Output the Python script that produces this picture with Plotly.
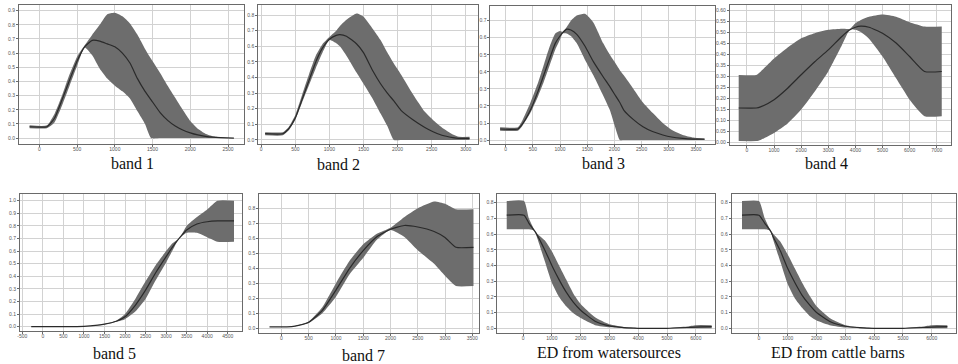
import plotly.graph_objects as go

W, H = 958, 364

# ---------------- data ----------------
b1_x = [-130, 100, 200, 300, 400, 500, 600, 700, 800, 900, 1000, 1100, 1200, 1300, 1400, 1480, 1600, 1700, 1800, 1900, 2000, 2100, 2200, 2300, 2400, 2578]
b1_mean = [0.08, 0.08, 0.14, 0.27, 0.41, 0.545, 0.645, 0.69, 0.685, 0.665, 0.645, 0.60, 0.53, 0.42, 0.33, 0.27, 0.18, 0.125, 0.085, 0.057, 0.037, 0.022, 0.012, 0.006, 0.003, 0.0]
b1_upper = [0.09, 0.09, 0.17, 0.30, 0.45, 0.575, 0.655, 0.73, 0.80, 0.875, 0.885, 0.86, 0.81, 0.73, 0.63, 0.56, 0.46, 0.37, 0.285, 0.20, 0.12, 0.065, 0.03, 0.012, 0.004, 0.0]
b1_lower = [0.07, 0.07, 0.11, 0.23, 0.37, 0.51, 0.64, 0.585, 0.49, 0.42, 0.37, 0.33, 0.28, 0.19, 0.10, 0.0, 0.0, 0.0, 0.0, 0.0, 0.0, 0.0, 0.0, 0.0, 0.0, 0.0]

b2_x = [58, 317, 400, 500, 600, 700, 800, 900, 1000, 1100, 1155, 1250, 1400, 1500, 1640, 1750, 1850, 1945, 2050, 2230, 2400, 2520, 2650, 2810, 2900, 3055]
b2_mean = [0.04, 0.04, 0.07, 0.14, 0.26, 0.38, 0.50, 0.59, 0.645, 0.67, 0.675, 0.665, 0.615, 0.56, 0.44, 0.36, 0.30, 0.25, 0.19, 0.128, 0.08, 0.053, 0.03, 0.015, 0.01, 0.01]
b2_upper = [0.05, 0.05, 0.08, 0.16, 0.29, 0.42, 0.54, 0.615, 0.66, 0.70, 0.73, 0.77, 0.81, 0.79, 0.71, 0.64, 0.56, 0.49, 0.42, 0.29, 0.18, 0.128, 0.08, 0.035, 0.02, 0.02]
b2_lower = [0.03, 0.03, 0.06, 0.13, 0.24, 0.35, 0.46, 0.56, 0.64, 0.62, 0.60, 0.54, 0.43, 0.36, 0.26, 0.17, 0.09, 0.0, 0.0, 0.0, 0.0, 0.0, 0.0, 0.0, 0.0, 0.0]

b3_x = [-102, 226, 300, 456, 600, 700, 800, 912, 1000, 1050, 1126, 1200, 1308, 1460, 1613, 1795, 1916, 2000, 2099, 2172, 2350, 2525, 2700, 2890, 3050, 3255, 3450, 3657]
b3_mean = [0.065, 0.065, 0.09, 0.176, 0.29, 0.38, 0.47, 0.567, 0.61, 0.63, 0.65, 0.645, 0.62, 0.55, 0.46, 0.37, 0.313, 0.27, 0.22, 0.176, 0.12, 0.078, 0.05, 0.03, 0.018, 0.01, 0.006, 0.005]
b3_upper = [0.075, 0.075, 0.11, 0.22, 0.34, 0.44, 0.54, 0.625, 0.64, 0.635, 0.665, 0.70, 0.73, 0.74, 0.69, 0.567, 0.50, 0.46, 0.41, 0.38, 0.30, 0.22, 0.16, 0.10, 0.06, 0.03, 0.015, 0.008]
b3_lower = [0.055, 0.055, 0.08, 0.16, 0.26, 0.34, 0.43, 0.53, 0.59, 0.625, 0.625, 0.61, 0.567, 0.47, 0.38, 0.26, 0.176, 0.09, 0.0, 0.0, 0.0, 0.0, 0.0, 0.0, 0.0, 0.0, 0.0, 0.0]

b4_x = [-305, 345, 500, 1000, 1500, 2000, 2500, 3000, 3500, 3800, 4000, 4200, 4500, 5000, 5500, 6000, 6550, 7184]
b4_mean = [0.155, 0.155, 0.16, 0.193, 0.245, 0.306, 0.365, 0.419, 0.48, 0.51, 0.522, 0.527, 0.522, 0.495, 0.45, 0.389, 0.321, 0.321]
b4_upper = [0.305, 0.305, 0.32, 0.38, 0.43, 0.472, 0.495, 0.51, 0.515, 0.515, 0.54, 0.555, 0.57, 0.58, 0.57, 0.545, 0.525, 0.525]
b4_lower = [0.005, 0.005, 0.01, 0.042, 0.085, 0.148, 0.23, 0.321, 0.44, 0.512, 0.51, 0.50, 0.47, 0.389, 0.29, 0.193, 0.118, 0.118]

b5_x = [-284, 500, 1000, 1500, 1800, 2000, 2250, 2500, 2750, 3000, 3150, 3317, 3500, 3750, 4000, 4250, 4653]
b5_mean = [0.0, 0.0, 0.003, 0.02, 0.045, 0.079, 0.17, 0.29, 0.43, 0.556, 0.63, 0.70, 0.767, 0.815, 0.833, 0.84, 0.84]
b5_upper = [0.0, 0.0, 0.003, 0.022, 0.05, 0.10, 0.22, 0.36, 0.49, 0.60, 0.66, 0.70, 0.80, 0.87, 0.93, 1.0, 1.0]
b5_lower = [0.0, 0.0, 0.003, 0.018, 0.04, 0.06, 0.12, 0.22, 0.37, 0.51, 0.60, 0.70, 0.745, 0.745, 0.71, 0.675, 0.675]

b7_x = [-219, 100, 250, 500, 750, 1000, 1250, 1500, 1750, 2000, 2250, 2500, 2800, 3000, 3200, 3522]
b7_mean = [0.01, 0.01, 0.015, 0.04, 0.12, 0.255, 0.40, 0.518, 0.61, 0.66, 0.685, 0.675, 0.645, 0.605, 0.54, 0.54]
b7_upper = [0.01, 0.01, 0.016, 0.045, 0.14, 0.30, 0.45, 0.56, 0.63, 0.67, 0.74, 0.80, 0.845, 0.83, 0.793, 0.793]
b7_lower = [0.01, 0.01, 0.014, 0.035, 0.10, 0.21, 0.36, 0.47, 0.59, 0.655, 0.61, 0.52, 0.43, 0.35, 0.282, 0.282]

ws_x = [-567, 34, 200, 400, 500, 750, 1000, 1250, 1500, 1750, 2000, 2500, 3000, 3500, 4000, 5000, 5700, 6000, 6550]
ws_mean = [0.72, 0.72, 0.67, 0.62, 0.59, 0.50, 0.40, 0.31, 0.23, 0.165, 0.115, 0.045, 0.015, 0.004, 0.0, 0.0, 0.005, 0.008, 0.01]
ws_upper = [0.81, 0.81, 0.70, 0.625, 0.60, 0.56, 0.49, 0.40, 0.31, 0.22, 0.155, 0.07, 0.025, 0.008, 0.002, 0.002, 0.012, 0.02, 0.02]
ws_lower = [0.63, 0.63, 0.63, 0.62, 0.57, 0.43, 0.29, 0.20, 0.14, 0.095, 0.065, 0.02, 0.006, 0.001, 0.0, 0.0, 0.0, 0.0, 0.0]

cb_x = [-588, 0, 200, 400, 500, 750, 1000, 1250, 1500, 1750, 2000, 2500, 3000, 3500, 4000, 5000, 5700, 6000, 6540]
cb_mean = [0.72, 0.72, 0.67, 0.62, 0.58, 0.49, 0.38, 0.29, 0.21, 0.15, 0.10, 0.04, 0.013, 0.004, 0.0, 0.0, 0.005, 0.008, 0.01]
cb_upper = [0.81, 0.81, 0.70, 0.625, 0.60, 0.55, 0.47, 0.38, 0.29, 0.21, 0.14, 0.06, 0.02, 0.007, 0.002, 0.002, 0.012, 0.02, 0.02]
cb_lower = [0.63, 0.63, 0.63, 0.62, 0.56, 0.42, 0.28, 0.19, 0.13, 0.08, 0.05, 0.018, 0.005, 0.001, 0.0, 0.0, 0.0, 0.0, 0.0]

titles = ["band 1", "band 2", "band 3", "band 4", "band 5", "band 7",
          "ED from watersources", "ED from cattle barns"]

# ---------------- layout helpers ----------------
panels = [
    dict(d=(b1_x, b1_mean, b1_upper, b1_lower), box=(16, 242, 5, 144), xr=[-271, 2715], yr=[-0.042, 0.94],
         xt=[0, 500, 1000, 1500, 2000, 2500], yt=[i / 10 for i in range(10)], fmt="%.1f", tp=(130, 164)),
    dict(d=(b2_x, b2_mean, b2_upper, b2_lower), box=(256, 476, 5, 144), xr=[-44, 3172], yr=[-0.026, 0.865],
         xt=[0, 500, 1000, 1500, 2000, 2500, 3000], yt=[i / 10 for i in range(9)], fmt="%.1f", tp=(337, 165)),
    dict(d=(b3_x, b3_mean, b3_upper, b3_lower), box=(489, 714, 6, 144), xr=[-279, 3845], yr=[-0.023, 0.786],
         xt=[0, 500, 1000, 1500, 2000, 2500, 3000, 3500], yt=[i / 10 for i in range(8)], fmt="%.1f", tp=(602, 163)),
    dict(d=(b4_x, b4_mean, b4_upper, b4_lower), box=(729, 951, 5, 145), xr=[-636, 7526], yr=[-0.013, 0.623],
         xt=[0, 1000, 2000, 3000, 4000, 5000, 6000, 7000], yt=[i * 0.05 for i in range(13)], fmt="%.2f", tp=(826, 163)),
    dict(d=(b5_x, b5_mean, b5_upper, b5_lower), box=(17, 240, 194, 331), xr=[-558, 4854], yr=[-0.034, 1.053],
         xt=[-500, 0, 500, 1000, 1500, 2000, 2500, 3000, 3500, 4000, 4500], yt=[i / 10 for i in range(11)], fmt="%.1f", tp=(112, 353)),
    dict(d=(b7_x, b7_mean, b7_upper, b7_lower), box=(257, 477, 194, 333), xr=[-408, 3614], yr=[-0.031, 0.895],
         xt=[0, 500, 1000, 1500, 2000, 2500, 3000, 3500], yt=[i / 10 for i in range(9)], fmt="%.1f", tp=(362, 355)),
    dict(d=(ws_x, ws_mean, ws_upper, ws_lower), box=(496, 714, 194, 333), xr=[-889, 6657], yr=[-0.030, 0.855],
         xt=[0, 1000, 2000, 3000, 4000, 5000, 6000], yt=[i / 10 for i in range(9)], fmt="%.1f", tp=(608, 352)),
    dict(d=(cb_x, cb_mean, cb_upper, cb_lower), box=(731, 956, 194, 333), xr=[-945, 6841], yr=[-0.030, 0.855],
         xt=[0, 1000, 2000, 3000, 4000, 5000, 6000], yt=[i / 10 for i in range(9)], fmt="%.1f", tp=(838, 352)),
]

FILL = "#6d6d6d"
LINE = "#2a2a2a"
SMOOTH = 0.5

fig = go.Figure()
layout = dict(width=W, height=H, margin=dict(l=0, r=0, t=0, b=0),
              paper_bgcolor="white", plot_bgcolor="white", showlegend=False,
              annotations=[])

for i, p in enumerate(panels, start=1):
    xs, mean, upper, lower = p["d"]
    xa = "x" if i == 1 else f"x{i}"
    ya = "y" if i == 1 else f"y{i}"
    fig.add_trace(go.Scatter(x=xs, y=lower, mode="lines",
                             line=dict(width=0, color=FILL, shape="spline", smoothing=SMOOTH),
                             xaxis=xa, yaxis=ya, hoverinfo="skip"))
    fig.add_trace(go.Scatter(x=xs, y=upper, mode="lines",
                             line=dict(width=0, color=FILL, shape="spline", smoothing=SMOOTH),
                             fill="tonexty", fillcolor=FILL, xaxis=xa, yaxis=ya, hoverinfo="skip"))
    fig.add_trace(go.Scatter(x=xs, y=mean, mode="lines",
                             line=dict(width=1.2, color=LINE, shape="spline", smoothing=SMOOTH),
                             xaxis=xa, yaxis=ya))
    x0, x1, yt, yb = p["box"]
    common = dict(showgrid=True, gridcolor="#d2d2d2", gridwidth=1, zeroline=False,
                  showline=True, mirror=True, linecolor="#6a6a6a", linewidth=1,
                  ticks="outside", ticklen=2, tickcolor="#6a6a6a",
                  tickfont=dict(family="Liberation Sans", size=5, color="#555555"))
    xkey = "xaxis" if i == 1 else f"xaxis{i}"
    ykey = "yaxis" if i == 1 else f"yaxis{i}"
    layout[xkey] = dict(domain=[x0 / W, x1 / W], range=p["xr"], anchor=ya, ticklabelstandoff=-2,
                        tickvals=p["xt"], ticktext=[str(v) for v in p["xt"]], **common)
    layout[ykey] = dict(domain=[1 - yb / H, 1 - yt / H], range=p["yr"], anchor=xa,
                        tickvals=p["yt"], ticktext=[p["fmt"] % v for v in p["yt"]], **common)
    tx, ty = p["tp"]
    layout["annotations"].append(dict(text=titles[i - 1], x=tx / W, y=1 - ty / H, xref="paper", yref="paper",
                                      showarrow=False, xanchor="center", yanchor="middle",
                                      font=dict(family="Liberation Serif", size=16, color="#111111")))

fig.update_layout(**layout)
fig.write_html("out.html", config={"displayModeBar": False},
               post_script="document.body.style.margin='0px';document.body.style.padding='0px';")
